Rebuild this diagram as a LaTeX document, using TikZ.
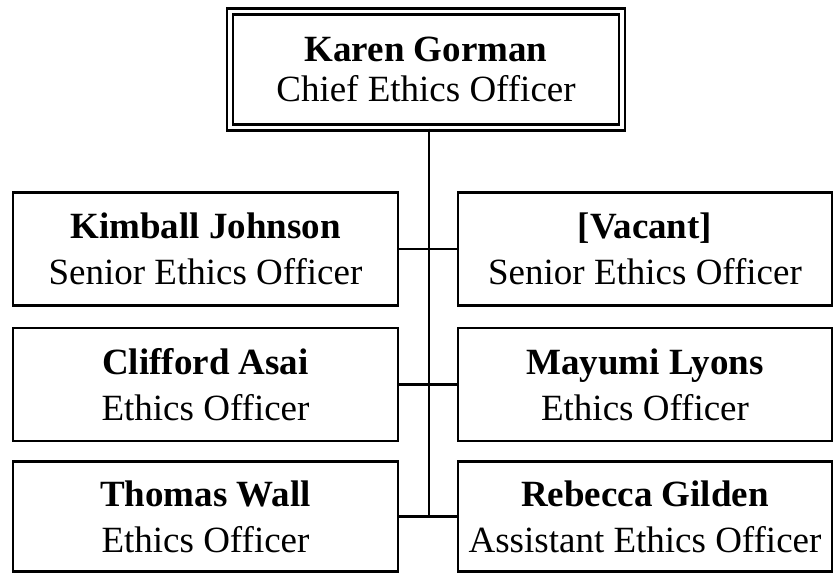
\documentclass[tikz,border=0pt]{standalone}
\usepackage{fontspec}
\setmainfont{Liberation Serif}
\begin{document}
\begin{tikzpicture}[x=1pt,y=-1pt,
  box/.style={draw,line width=2.6pt,rectangle,align=center,inner sep=0pt,
    minimum height=113pt,font=\fontsize{37}{46}\selectfont},
  lbox/.style={box,minimum width=385pt},
  rbox/.style={box,minimum width=374pt},
  topbox/.style={draw,line width=2.4pt,double,double distance=3.5pt,rectangle,align=center,inner sep=0pt,
    minimum width=392pt,minimum height=116pt,font=\fontsize{37}{40}\selectfont},
  link/.style={line width=2.6pt}]
\useasboundingbox (0,0) rectangle (834,573);
\node[topbox] (top) at (426,69.5) {\textbf{Karen Gorman}\\Chief Ethics Officer};
\node[lbox] (l1) at (205.5,249) {\textbf{Kimball Johnson}\\Senior Ethics Officer};
\node[rbox] (r1) at (645,249) {\textbf{[Vacant]}\\Senior Ethics Officer};
\node[lbox] (l2) at (205.5,384.5) {\textbf{Clifford Asai}\\Ethics Officer};
\node[rbox] (r2) at (645,384.5) {\textbf{Mayumi Lyons}\\Ethics Officer};
\node[lbox,minimum height=110pt] (l3) at (205.5,516.5) {\textbf{Thomas Wall}\\Ethics Officer};
\node[rbox,minimum height=110pt] (r3) at (645,516.5) {\textbf{Rebecca Gilden}\\Assistant Ethics Officer};
\coordinate (spine) at (429,0);
\draw[link] (top.south -| spine) -- (l3.east -| spine);
\draw[link] (l1.east) -- (r1.west);
\draw[link] (l2.east) -- (r2.west);
\draw[link] (l3.east) -- (r3.west);
\end{tikzpicture}
\end{document}
